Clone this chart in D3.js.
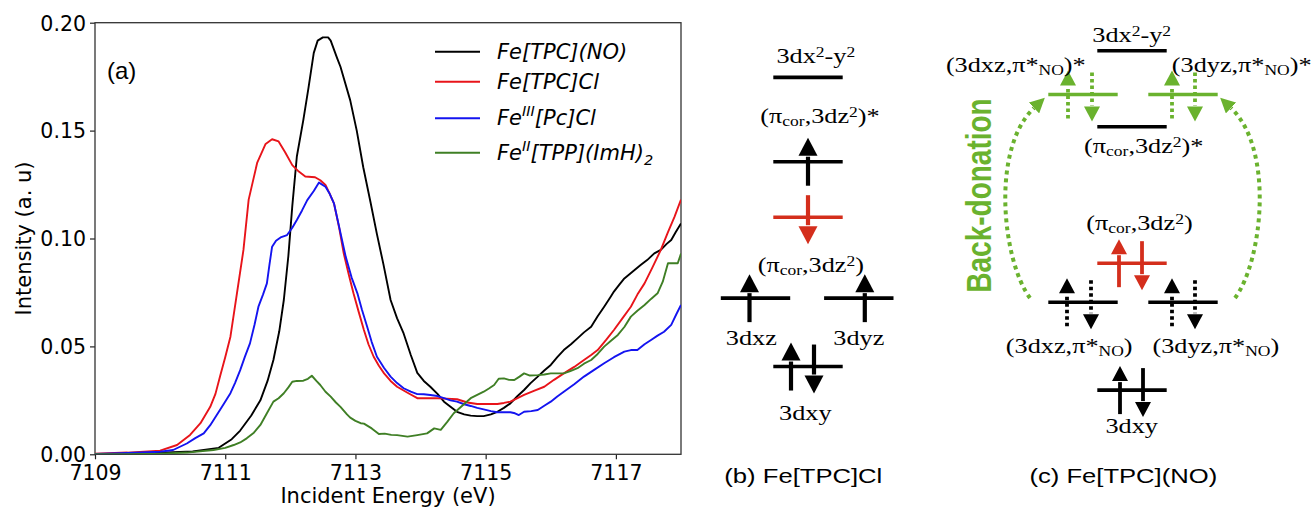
<!DOCTYPE html>
<html>
<head>
<meta charset="utf-8">
<script src="https://cdn.jsdelivr.net/npm/d3@7"></script>
<style>
  body { margin: 0; background: #fff; }
  svg { display: block; }
</style>
</head>
<body>
<svg id="fig" width="1315" height="508"></svg>
<script>
// ---------- panel (a) data : [incident energy (eV), intensity (a. u)] ----------
const seriesNO = [
  [7109.0,0.0],[7109.5,0.0003],[7110.0,0.0007],[7110.5,0.0013],[7110.9,0.003],[7111.1,0.007],
  [7111.23,0.011],[7111.4,0.018],[7111.54,0.025],[7111.65,0.034],[7111.74,0.0437],[7111.83,0.057],
  [7111.9,0.0715],[7111.97,0.092],[7112.03,0.115],[7112.1,0.138],[7112.2,0.155],[7112.28,0.170],
  [7112.36,0.186],[7112.42,0.1917],[7112.5,0.1932],[7112.58,0.1932],[7112.62,0.1917],[7112.72,0.1835],
  [7112.77,0.1796],[7112.92,0.164],[7113.02,0.150],[7113.12,0.133],[7113.23,0.117],[7113.33,0.102],
  [7113.43,0.088],[7113.54,0.0715],[7113.64,0.063],[7113.74,0.056],[7113.85,0.046],[7113.95,0.0377],
  [7114.05,0.034],[7114.15,0.0313],[7114.26,0.028],[7114.36,0.0244],[7114.46,0.022],[7114.56,0.0197],
  [7114.67,0.0185],[7114.77,0.0179],[7114.87,0.0177],[7114.97,0.0177],[7115.08,0.0185],[7115.18,0.0197],
  [7115.28,0.0215],[7115.38,0.0236],[7115.49,0.027],[7115.59,0.0298],[7115.69,0.033],[7115.8,0.036],
  [7115.9,0.0388],[7116.0,0.0414],[7116.1,0.045],[7116.2,0.0483],[7116.31,0.051],[7116.41,0.0537],
  [7116.51,0.0565],[7116.62,0.0591],[7116.72,0.064],[7116.82,0.0684],[7116.92,0.073],[7116.97,0.0754],
  [7117.05,0.0785],[7117.13,0.0815],[7117.25,0.0845],[7117.38,0.0877],[7117.48,0.090],[7117.59,0.0931],
  [7117.69,0.0947],[7117.78,0.0975],[7117.85,0.0993],[7117.92,0.103],[7118.0,0.107]
];
const seriesCl = [
  [7109.0,0.0003],[7109.5,0.0008],[7110.0,0.0017],[7110.26,0.0043],[7110.46,0.009],[7110.62,0.0144],
  [7110.77,0.022],[7110.85,0.028],[7110.92,0.036],[7111.0,0.045],[7111.08,0.0545],[7111.18,0.0746],
  [7111.28,0.0947],[7111.36,0.118],[7111.49,0.135],[7111.62,0.1438],[7111.72,0.146],[7111.82,0.145],
  [7111.92,0.140],[7112.03,0.134],[7112.13,0.131],[7112.23,0.1287],[7112.38,0.1284],[7112.46,0.127],
  [7112.54,0.1248],[7112.6,0.121],[7112.67,0.1163],[7112.75,0.105],[7112.82,0.0931],[7112.9,0.083],
  [7112.97,0.0746],[7113.05,0.066],[7113.13,0.0576],[7113.2,0.051],[7113.28,0.0452],[7113.36,0.041],
  [7113.44,0.0375],[7113.54,0.034],[7113.64,0.0313],[7113.8,0.0285],[7113.95,0.026],[7114.1,0.026],
  [7114.26,0.026],[7114.4,0.0258],[7114.56,0.0255],[7114.72,0.024],[7114.87,0.0233],[7115.03,0.0233],
  [7115.18,0.0233],[7115.28,0.0238],[7115.38,0.0244],[7115.49,0.026],[7115.59,0.0275],[7115.75,0.0295],
  [7115.9,0.0313],[7116.05,0.0345],[7116.2,0.0375],[7116.36,0.0405],[7116.51,0.0437],[7116.62,0.046],
  [7116.72,0.0483],[7116.85,0.053],[7116.97,0.0576],[7117.1,0.063],[7117.23,0.0684],[7117.33,0.074],
  [7117.44,0.0792],[7117.56,0.0865],[7117.69,0.0947],[7117.8,0.103],[7117.9,0.110],[7118.0,0.118]
];
const seriesPc = [
  [7109.0,0.0002],[7109.5,0.0006],[7110.0,0.0012],[7110.2,0.002],[7110.41,0.005],[7110.54,0.0075],
  [7110.67,0.0097],[7110.77,0.0135],[7110.87,0.0182],[7110.97,0.023],[7111.08,0.0283],[7111.15,0.033],
  [7111.23,0.039],[7111.3,0.045],[7111.38,0.0514],[7111.45,0.06],[7111.51,0.0684],[7111.58,0.074],
  [7111.64,0.0792],[7111.68,0.088],[7111.72,0.0962],[7111.78,0.099],[7111.85,0.1005],[7111.95,0.1016],
  [7112.03,0.105],[7112.1,0.1086],[7112.18,0.113],[7112.26,0.1178],[7112.36,0.122],[7112.44,0.1259],
  [7112.54,0.124],[7112.6,0.121],[7112.67,0.1163],[7112.76,0.104],[7112.85,0.0916],[7112.94,0.082],
  [7113.03,0.0746],[7113.1,0.067],[7113.18,0.0591],[7113.25,0.052],[7113.33,0.0452],[7113.44,0.040],
  [7113.54,0.036],[7113.64,0.033],[7113.74,0.0306],[7113.85,0.029],[7113.95,0.0279],[7114.05,0.0278],
  [7114.15,0.0275],[7114.26,0.027],[7114.36,0.026],[7114.46,0.025],[7114.56,0.0244],[7114.67,0.0232],
  [7114.77,0.0224],[7114.87,0.0215],[7114.97,0.0208],[7115.08,0.020],[7115.18,0.0195],[7115.28,0.0195],
  [7115.38,0.0195],[7115.45,0.019],[7115.51,0.0182],[7115.59,0.0197],[7115.7,0.020],[7115.8,0.0205],
  [7115.9,0.0225],[7116.0,0.0244],[7116.1,0.0268],[7116.2,0.029],[7116.36,0.0325],[7116.51,0.036],
  [7116.66,0.039],[7116.82,0.0422],[7116.97,0.045],[7117.13,0.0476],[7117.23,0.0483],[7117.33,0.0483],
  [7117.44,0.051],[7117.54,0.053],[7117.64,0.055],[7117.74,0.0568],[7117.85,0.060],[7117.93,0.065],
  [7118.0,0.0692]
];
const seriesTPP = [
  [7109.0,0.0],[7109.5,0.0001],[7110.0,0.0003],[7110.41,0.0008],[7110.82,0.002],[7111.0,0.003],
  [7111.13,0.0043],[7111.23,0.0055],[7111.33,0.0074],[7111.44,0.010],[7111.54,0.0136],[7111.64,0.019],
  [7111.74,0.0244],[7111.82,0.026],[7111.9,0.0283],[7111.97,0.031],[7112.03,0.0336],[7112.1,0.034],
  [7112.2,0.0341],[7112.27,0.035],[7112.33,0.0364],[7112.4,0.034],[7112.46,0.0321],[7112.54,0.029],
  [7112.62,0.0267],[7112.7,0.024],[7112.77,0.022],[7112.87,0.0185],[7112.92,0.017],[7113.0,0.0155],
  [7113.08,0.0144],[7113.13,0.0142],[7113.25,0.012],[7113.36,0.0094],[7113.45,0.0096],[7113.55,0.009],
  [7113.64,0.0089],[7113.8,0.0082],[7113.95,0.0089],[7114.1,0.0097],[7114.21,0.012],[7114.31,0.0113],
  [7114.41,0.015],[7114.51,0.019],[7114.64,0.0225],[7114.77,0.026],[7114.87,0.0275],[7114.97,0.029],
  [7115.05,0.0305],[7115.13,0.0321],[7115.2,0.035],[7115.28,0.0352],[7115.36,0.0345],[7115.44,0.0344],
  [7115.52,0.036],[7115.59,0.0375],[7115.68,0.0365],[7115.8,0.0367],[7115.9,0.037],[7116.0,0.0375],
  [7116.1,0.0375],[7116.2,0.0375],[7116.3,0.0385],[7116.41,0.0399],[7116.51,0.042],[7116.62,0.0437],
  [7116.72,0.0465],[7116.82,0.0499],[7116.92,0.0525],[7117.03,0.0553],[7117.13,0.059],[7117.23,0.0638],
  [7117.33,0.0665],[7117.44,0.0692],[7117.54,0.072],[7117.64,0.0746],[7117.72,0.080],[7117.8,0.0885],
  [7117.9,0.0885],[7117.95,0.0885],[7118.0,0.093]
];

// legend names, split in [text, 'sup'|'sub'] pieces
const seriesNames = [
  [['Fe[TPC](NO)']],
  [['Fe[TPC]Cl']],
  [['Fe'], ['III', 'sup'], ['[Pc]Cl']],
  [['Fe'], ['II', 'sup'], ['[TPP](ImH)'], ['2', 'sub']]
];
const seriesColors = ['#000000', '#e8141a', '#1414f0', '#3f7f25'];
const xTicks = [7109, 7111, 7113, 7115, 7117];
const yTicks = [0, 0.05, 0.10, 0.15, 0.20];

// ---------- panels (b), (c): orbital levels (energy in arbitrary units) ----------
const levelsB = [
  {col: 'C', e: 9.28, color: 'k', spins: []},
  {col: 'C', e: 7.06, color: 'k', spins: [{dir: 'up', dx: 0}]},
  {col: 'C', e: 5.60, color: 'r', spins: [{dir: 'down', dx: 0}]},
  {col: 'L', e: 3.47, color: 'k', spins: [{dir: 'up', dx: -6}]},
  {col: 'R', e: 3.47, color: 'k', spins: [{dir: 'up', dx: 6}]},
  {col: 'C', e: 1.67, color: 'k', spins: [{dir: 'up', dx: -17}, {dir: 'down', dx: 6}]}
];
const levelsC = [
  {col: 'C', e: 9.98, color: 'k', spins: []},
  {col: 'L', e: 8.83, color: 'g', spins: [{dir: 'up', dx: -15, dot: true}, {dir: 'down', dx: 9, dot: true}]},
  {col: 'R', e: 8.83, color: 'g', spins: [{dir: 'up', dx: -11, dot: true}, {dir: 'down', dx: 12, dot: true}]},
  {col: 'C', e: 7.98, color: 'k', spins: []},
  {col: 'C', e: 4.39, color: 'r', spins: [{dir: 'up', dx: -13}, {dir: 'down', dx: 10}]},
  {col: 'L', e: 3.36, color: 'k', spins: [{dir: 'up', dx: -16, dot: true}, {dir: 'down', dx: 8, dot: true}]},
  {col: 'R', e: 3.36, color: 'k', spins: [{dir: 'up', dx: -11, dot: true}, {dir: 'down', dx: 12, dot: true}]},
  {col: 'C', e: 1.05, color: 'k', spins: [{dir: 'up', dx: -12}, {dir: 'down', dx: 11}]}
];
const piStar = [['(π'], ['cor', 'sub'], [',3dz'], ['2', 'sup'], [')*']];
const piBond = [['(π'], ['cor', 'sub'], [',3dz'], ['2', 'sup'], [')']];
const dx2y2 = [['3dx'], ['2', 'sup'], ['-y'], ['2', 'sup']];
const labelsB = [
  {parts: dx2y2, x: 815.8, e: 9.66},
  {parts: piStar, x: 820, e: 8.08},
  {parts: piBond, x: 810.8, e: 4.16},
  {parts: [['3dxz']], x: 751.3, e: 2.24},
  {parts: [['3dyz']], x: 858.8, e: 2.24},
  {parts: [['3dxy']], x: 805.3, e: 0.26}
];
const labelsC = [
  {parts: dx2y2, x: 1131.7, e: 10.22},
  {parts: [['(3dxz,π*'], ['NO', 'sub'], [')*']], x: 1015.8, e: 9.43},
  {parts: [['(3dyz,π*'], ['NO', 'sub'], [')*']], x: 1241.7, e: 9.43},
  {parts: piStar, x: 1143.8, e: 7.28},
  {parts: piBond, x: 1139.5, e: 5.26},
  {parts: [['(3dxz,π*'], ['NO', 'sub'], [')']], x: 1069.2, e: 2.02},
  {parts: [['(3dyz,π*'], ['NO', 'sub'], [')']], x: 1215.8, e: 2.02},
  {parts: [['3dxy']], x: 1131.7, e: -0.09}
];

// ---------- drawing ----------
const svg = d3.select('#fig');
const palette = {k: '#000', r: '#d42e1c', g: '#6ab22e'};

function richText(g, parts, x, y, o) {
  const t = g.append('text')
    .attr('transform', `translate(${x},${y}) scale(${o.sx || 1},1)`)
    .attr('text-anchor', o.anchor || 'middle')
    .attr('font-family', o.font)
    .attr('font-size', o.size)
    .attr('font-style', o.italic ? 'italic' : null)
    .attr('fill', o.fill || '#000');
  let shift = 0;
  parts.forEach(function(p) {
    const target = p[1] === 'sup' ? -o.supUp : p[1] === 'sub' ? o.subDown : 0;
    t.append('tspan')
      .attr('dy', target - shift)
      .attr('font-size', p[1] ? o.small : null)
      .text(p[0]);
    shift = target;
  });
  return t;
}

// panel (a)
const xS = d3.scaleLinear().domain([7109, 7118]).range([95, 681]);
const yS = d3.scaleLinear().domain([0, 0.2]).range([454.3, 22.7]);

svg.append('defs').append('clipPath').attr('id', 'plotClip')
  .append('rect').attr('x', 95).attr('y', 22.7).attr('width', 586).attr('height', 431.6);

const gx = svg.append('g')
  .attr('transform', `translate(0,${yS(0)})`)
  .call(d3.axisBottom(xS).tickValues(xTicks).tickSize(5).tickSizeOuter(0).tickPadding(6).tickFormat(d3.format('d')));
gx.select('.domain').remove();

const gy = svg.append('g')
  .attr('transform', `translate(${xS(7109)},0)`)
  .call(d3.axisLeft(yS).tickValues(yTicks).tickSize(5).tickSizeOuter(0).tickPadding(4).tickFormat(d3.format('.2f')));
gy.select('.domain').remove();

[gx, gy].forEach(function(g) {
  g.selectAll('text').attr('font-family', 'DejaVu Sans').attr('font-size', 20.5).attr('fill', '#000');
  g.selectAll('line').attr('stroke', '#222').attr('stroke-width', 1.2);
});
gy.selectAll('text').attr('dy', '0.36em');

svg.append('rect')
  .attr('x', 95).attr('y', 22.7).attr('width', 586).attr('height', 431.6)
  .attr('fill', 'none').attr('stroke', '#333').attr('stroke-width', 1.3);

const line = d3.line().x(d => xS(d[0])).y(d => yS(d[1]));
[seriesNO, seriesCl, seriesPc, seriesTPP].forEach(function(s, i) {
  svg.append('path').datum(s)
    .attr('clip-path', 'url(#plotClip)')
    .attr('d', line)
    .attr('fill', 'none')
    .attr('stroke', seriesColors[i])
    .attr('stroke-width', 1.9)
    .attr('stroke-linejoin', 'round');
});

svg.append('text')
  .attr('transform', 'translate(31,238.5) rotate(-90)')
  .attr('text-anchor', 'middle').attr('font-family', 'DejaVu Sans').attr('font-size', 21)
  .text('Intensity (a. u)');
svg.append('text').attr('x', 388).attr('y', 502.5)
  .attr('text-anchor', 'middle').attr('font-family', 'DejaVu Sans').attr('font-size', 21)
  .text('Incident Energy (eV)');
svg.append('text').attr('x', 107).attr('y', 79)
  .attr('font-family', 'Liberation Sans').attr('font-size', 24)
  .text('(a)');

// legend
const legendRows = [51.7, 81.7, 118.3, 152.7];
seriesNames.forEach(function(name, i) {
  svg.append('line')
    .attr('x1', 435).attr('x2', 480).attr('y1', legendRows[i]).attr('y2', legendRows[i])
    .attr('stroke', seriesColors[i]).attr('stroke-width', 2);
  richText(svg, name, 497, legendRows[i] + 7, {
    anchor: 'start', font: 'DejaVu Sans', size: 21, small: 14.5, italic: true, supUp: 9, subDown: 5
  });
});

// panels (b), (c)
const yE = d3.scaleLinear().domain([0, 10]).range([430, 50]);
const serifOpt = {font: 'Liberation Serif', size: 21, small: 14, sx: 1.25, supUp: 6, subDown: 3};

function drawArrow(g, x, y, s, color, headW, headH, stemW) {
  const up = s.dir === 'up';
  const tail = up ? y + 24 : y - 22;
  const tip = up ? y - 24 : y + 27;
  const base = up ? tip + headH : tip - headH;
  g.append('line')
    .attr('x1', x).attr('x2', x).attr('y1', tail).attr('y2', up ? base + 1 : base - 1)
    .attr('stroke', color).attr('stroke-width', stemW)
    .attr('stroke-dasharray', s.dot ? '3.5 3' : null);
  g.append('path')
    .attr('d', `M${x},${tip} L${x - headW / 2},${base} L${x + headW / 2},${base} Z`)
    .attr('fill', color);
}

function drawPanel(levels, labels, cols, halfW, head) {
  const g = svg.append('g');
  levels.forEach(function(lv) {
    const cx = cols[lv.col];
    const y = yE(lv.e);
    const color = palette[lv.color];
    g.append('line')
      .attr('x1', cx - halfW).attr('x2', cx + halfW).attr('y1', y).attr('y2', y)
      .attr('stroke', color).attr('stroke-width', 3.6);
    lv.spins.forEach(function(s) {
      drawArrow(g, cx + s.dx, y, s, color, head.w, head.h, head.stem);
    });
  });
  labels.forEach(function(lb) {
    richText(g, lb.parts, lb.x, yE(lb.e), serifOpt);
  });
  return g;
}

drawPanel(levelsB, labelsB, {L: 755.5, C: 808, R: 858.8}, 34.7, {w: 19, h: 18, stem: 4.2});
const gC = drawPanel(levelsC, labelsC, {L: 1083, C: 1132, R: 1183}, 34.7, {w: 16, h: 15, stem: 3.8});

// back-donation arcs
const defs = svg.select('defs');
defs.append('marker')
  .attr('id', 'ghead').attr('viewBox', '0 0 10 10')
  .attr('refX', 0).attr('refY', 5)
  .attr('markerWidth', 15).attr('markerHeight', 15)
  .attr('markerUnits', 'userSpaceOnUse').attr('orient', 'auto')
  .append('path').attr('d', 'M0,0 L10,5 L0,10 Z').attr('fill', palette.g);

const arcs = [
  'M1030,298 C1003,262 990,150 1034,108',
  'M1235,298 C1262,262 1275,150 1231,108'
];
arcs.forEach(function(d) {
  gC.append('path').attr('d', d)
    .attr('fill', 'none').attr('stroke', palette.g).attr('stroke-width', 4)
    .attr('stroke-dasharray', '4 4')
    .attr('marker-end', 'url(#ghead)');
});

svg.append('text')
  .attr('transform', 'translate(991,195.5) scale(1.25,1) rotate(-90)')
  .attr('text-anchor', 'middle').attr('font-family', 'Liberation Sans')
  .attr('font-weight', 'bold').attr('font-size', 28).attr('fill', palette.g)
  .text('Back-donation');

// captions
richText(svg, [['(b) Fe[TPC]Cl']], 803.3, 483, {font: 'Liberation Sans', size: 20.5, sx: 1.25});
richText(svg, [['(c) Fe[TPC](NO)']], 1123.3, 483.3, {font: 'Liberation Sans', size: 20.5, sx: 1.25});
</script>
</body>
</html>
